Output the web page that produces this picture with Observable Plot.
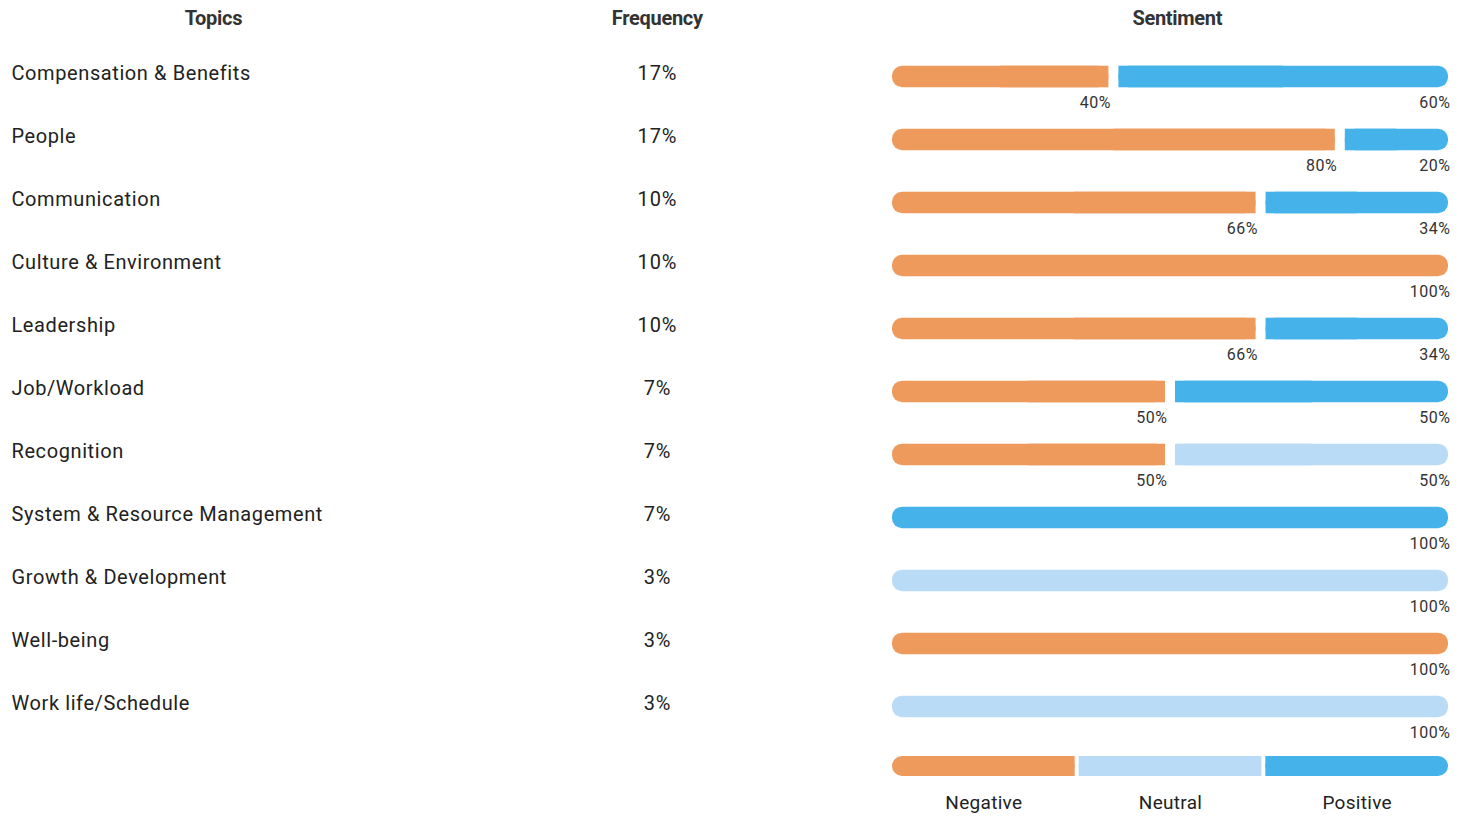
<!DOCTYPE html>
<html><head><meta charset="utf-8">
<script src="https://cdn.jsdelivr.net/npm/d3@7"></script>
<script src="https://cdn.jsdelivr.net/npm/@observablehq/plot@0.6"></script>
<style>
html,body{margin:0;padding:0;background:#fff;overflow:hidden;font-family:Roboto,sans-serif;}
#wrap{width:1467px;height:817px;position:relative;}
.row{display:flex;}
.hdr{height:36px;line-height:36px;font-weight:700;font-size:20px;color:#333;text-align:center;letter-spacing:-0.3px;}
svg{display:block;overflow:visible;}
#c1 text{letter-spacing:0.6px;}
#c2 text{letter-spacing:0.9px;}
#c3 text{letter-spacing:0.5px;}
#leg text{letter-spacing:0.3px;}
</style></head>
<body><div id="wrap">
<div class="row">
  <div class="hdr" style="width:428px">Topics</div>
  <div class="hdr" style="width:462px">Frequency</div>
  <div class="hdr" style="width:581px">Sentiment</div>
</div>
<div class="row">
  <div id="c1" style="width:440px"></div>
  <div id="c2" style="width:434px"></div>
  <div id="c3" style="width:593px"></div>
</div>
</div>
<script>
const topics = ["Compensation & Benefits","People","Communication","Culture & Environment","Leadership","Job/Workload","Recognition","System & Resource Management","Growth & Development","Well-being","Work life/Schedule"];
const frequency = [17,17,10,10,10,7,7,7,3,3,3];
const negative = [40,80,66,100,66,50,50,0,0,100,0];
const neutral  = [0,0,0,0,0,0,50,0,100,0,100];
const positive = [60,20,34,0,34,50,0,100,0,0,0];
const sentiments = ["Negative","Neutral","Positive"];
const sentimentColors = ["#EF9A5D","#B9DBF5","#45B2E9"];

const color = {domain: sentiments, range: sentimentColors};
const rowH = 63.35;
const H = 7.3 + rowH * topics.length;

// segments
const segs = [];
topics.forEach((t, i) => {
  const vals = [negative[i], neutral[i], positive[i]];
  let acc = 0;
  const parts = [];
  vals.forEach((v, k) => {
    if (v > 0) { parts.push({topic: t, sentiment: sentiments[k], value: v, x1: acc, x2: acc + v}); acc += v; }
  });
  parts.forEach((p, j) => { p.first = j === 0; p.last = j === parts.length - 1; p.mid = (p.x1 + p.x2) / 2; segs.push(p); });
});

const font = {fontFamily: "Roboto, sans-serif", background: "transparent", color: "#222", overflow: "visible"};

const p1 = Plot.plot({
  width: 440, height: H, marginLeft: 11, marginRight: 0, marginTop: 7.3, marginBottom: 0,
  style: font,
  y: {type: "band", domain: topics, padding: 0, axis: null},
  marks: [
    Plot.text(topics, {y: d => d, text: d => d, frameAnchor: "left", textAnchor: "start", fontSize: 20, dy: -3, fill: "#222"})
  ]
});
document.getElementById("c1").append(p1);

const freqData = topics.map((t, i) => ({topic: t, f: frequency[i]}));
const p2 = Plot.plot({
  width: 434, height: H, marginLeft: 0, marginRight: 0, marginTop: 7.3, marginBottom: 0,
  style: font,
  y: {type: "band", domain: topics, padding: 0, axis: null},
  marks: [
    Plot.text(freqData, {y: "topic", text: d => d.f + "%", frameAnchor: "middle", fontSize: 20, dy: -3, fill: "#222"})
  ]
});
document.getElementById("c2").append(p2);

const inset = {insetTop: 20.7, insetBottom: 20.7};
const p3 = Plot.plot({
  width: 593, height: H, marginLeft: 13, marginRight: 14, marginTop: 7.3, marginBottom: 0,
  style: font,
  x: {domain: [0, 100], axis: null},
  y: {type: "band", domain: topics, padding: 0, axis: null},
  color,
  marks: [
    Plot.barX(segs, {x1: "x1", x2: "x2", y: "topic", fill: "sentiment", rx: 10, insetLeft: 5, insetRight: 5, ...inset}),
    Plot.barX(segs.filter(d => !d.first), {x1: "x1", x2: "mid", y: "topic", fill: "sentiment", insetLeft: 5, ...inset}),
    Plot.barX(segs.filter(d => !d.last), {x1: "mid", x2: "x2", y: "topic", fill: "sentiment", insetRight: 5, ...inset}),
    Plot.text(segs, {x: "x2", y: "topic", text: d => d.value + "%", textAnchor: "end", dx: -3, dy: 26, fontSize: 16, fill: "#333"})
  ]
});
document.getElementById("c3").append(p3);

// legend
let acc = 0;
const leg = sentiments.map((s, k) => { const o = {sentiment: s, x1: acc, x2: acc + 1, first: k === 0, last: k === sentiments.length - 1}; acc += 1; o.mid = (o.x1 + o.x2) / 2; return o; });
const legInset = {insetTop: 16, insetBottom: 41};
const p4 = Plot.plot({
  width: 593, height: 77, marginLeft: 16, marginRight: 17, marginTop: 0, marginBottom: 0,
  style: font,
  x: {domain: [0, 3], axis: null},
  color,
  marks: [
    Plot.barX(leg, {x1: "x1", x2: "x2", fill: "sentiment", rx: 10, insetLeft: 2, insetRight: 2, ...legInset}),
    Plot.barX(leg.filter(d => !d.first), {x1: "x1", x2: "mid", fill: "sentiment", insetLeft: 2, ...legInset}),
    Plot.barX(leg.filter(d => !d.last), {x1: "mid", x2: "x2", fill: "sentiment", insetRight: 2, ...legInset}),
    Plot.text(leg, {x: "mid", text: "sentiment", frameAnchor: "bottom", lineAnchor: "middle", dy: -15, fontSize: 19, fill: "#222"})
  ]
});
const lw = document.createElement("div");
lw.id = "leg";
lw.style.cssText = "position:absolute;left:874px;top:740px;";
lw.append(p4);
document.getElementById("wrap").append(lw);
</script>
</body></html>
